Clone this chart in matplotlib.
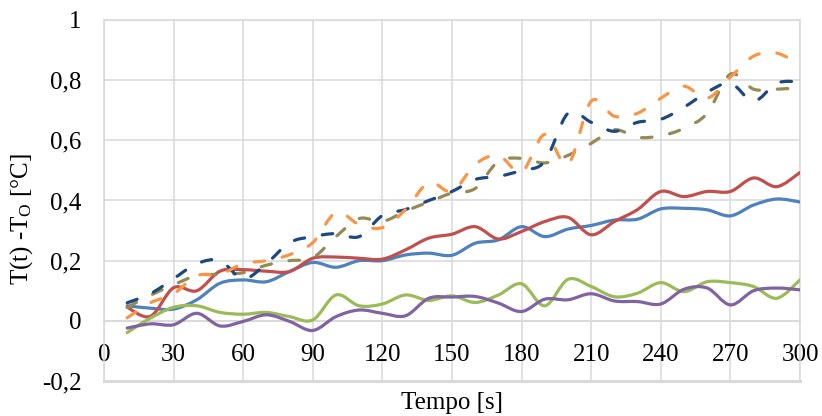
import matplotlib
matplotlib.use("Agg")
import matplotlib.pyplot as plt
from matplotlib.path import Path
from matplotlib.patches import PathPatch
from matplotlib.ticker import FuncFormatter

plt.rcParams['font.family'] = ['Liberation Serif', 'DejaVu Serif']
plt.rcParams['mathtext.fontset'] = 'custom'
plt.rcParams['mathtext.rm'] = 'Liberation Serif'
plt.rcParams['mathtext.it'] = 'Liberation Serif:italic'

# Time axis [s]
tempo = list(range(10, 310, 10))

# Temperature rise T(t) - T0 [°C] for each measurement
serie_azul = [0.050, 0.042, 0.039, 0.070, 0.125, 0.136, 0.130, 0.164, 0.194, 0.178,
              0.200, 0.200, 0.219, 0.225, 0.218, 0.258, 0.269, 0.313, 0.280, 0.305,
              0.317, 0.335, 0.338, 0.372, 0.374, 0.369, 0.349, 0.385, 0.405, 0.395]
serie_vermelha = [0.045, 0.015, 0.110, 0.100, 0.165, 0.170, 0.165, 0.164, 0.208, 0.212,
                  0.208, 0.205, 0.236, 0.275, 0.288, 0.313, 0.272, 0.297, 0.330, 0.344,
                  0.286, 0.330, 0.370, 0.430, 0.413, 0.430, 0.430, 0.475, 0.446, 0.493]
serie_verde = [-0.039, 0.009, 0.045, 0.050, 0.028, 0.022, 0.028, 0.014, 0.003, 0.086,
               0.050, 0.056, 0.086, 0.068, 0.083, 0.061, 0.086, 0.123, 0.050, 0.138,
               0.114, 0.080, 0.092, 0.127, 0.097, 0.130, 0.127, 0.114, 0.075, 0.136]
serie_roxa = [-0.024, -0.010, -0.013, 0.025, -0.017, -0.002, 0.020, -0.002, -0.032, 0.014,
              0.036, 0.025, 0.017, 0.075, 0.079, 0.081, 0.059, 0.031, 0.072, 0.070,
              0.090, 0.066, 0.064, 0.056, 0.105, 0.109, 0.053, 0.100, 0.109, 0.103]
serie_azul_escuro = [0.060, 0.090, 0.140, 0.190, 0.200, 0.140, 0.190, 0.260, 0.280, 0.290,
                     0.280, 0.350, 0.370, 0.400, 0.430, 0.470, 0.480, 0.500, 0.530, 0.690,
                     0.660, 0.630, 0.660, 0.670, 0.710, 0.760, 0.790, 0.730, 0.790, 0.795]
serie_laranja = [0.010, 0.060, 0.090, 0.150, 0.155, 0.190, 0.200, 0.220, 0.260, 0.360,
                 0.320, 0.310, 0.370, 0.460, 0.430, 0.520, 0.550, 0.495, 0.620, 0.520,
                 0.730, 0.680, 0.690, 0.740, 0.780, 0.740, 0.810, 0.880, 0.890, 0.850]
serie_oliva = [0.045, 0.085, 0.120, 0.150, 0.155, 0.160, 0.185, 0.200, 0.210, 0.280,
               0.340, 0.330, 0.365, 0.395, 0.425, 0.440, 0.530, 0.540, 0.525, 0.550,
               0.590, 0.635, 0.610, 0.615, 0.640, 0.690, 0.820, 0.770, 0.770, 0.775]

y_ticks = [-0.2, 0, 0.2, 0.4, 0.6, 0.8, 1.0]
x_ticks = list(range(0, 330, 30))


def smooth_path(xs, ys):
    """Smoothed polyline as cubic Bezier segments (Catmull-Rom style control points)."""
    n = len(xs)
    verts = [(xs[0], ys[0])]
    codes = [Path.MOVETO]
    for i in range(n - 1):
        i0 = max(i - 1, 0)
        i3 = min(i + 2, n - 1)
        c1 = (xs[i] + (xs[i + 1] - xs[i0]) / 6.0, ys[i] + (ys[i + 1] - ys[i0]) / 6.0)
        c2 = (xs[i + 1] - (xs[i3] - xs[i]) / 6.0, ys[i + 1] - (ys[i3] - ys[i]) / 6.0)
        verts += [c1, c2, (xs[i + 1], ys[i + 1])]
        codes += [Path.CURVE4] * 3
    return Path(verts, codes)


fig = plt.figure(figsize=(8.22, 4.16), dpi=100)
ax = fig.add_axes([104 / 822, 1 - 381 / 416, (800 - 104) / 822, (381 - 20) / 416])

ax.set_xlim(0, 300)
ax.set_ylim(-0.2, 1.0)

grid_color = '#D9D9D9'
ax.set_xticks(x_ticks)
ax.set_yticks(y_ticks)
ax.grid(True, color=grid_color, linewidth=1.1, zorder=0)
ax.set_axisbelow(True)
for side in ('left', 'right', 'top'):
    ax.spines[side].set_color(grid_color)
    ax.spines[side].set_linewidth(1.1)
ax.spines['bottom'].set_position(('data', 0))
ax.spines['bottom'].set_color(grid_color)
ax.spines['bottom'].set_linewidth(1.1)
ax.axhline(-0.2, color=grid_color, linewidth=2.2, zorder=0, clip_on=False)

ax.tick_params(axis='both', length=0, labelsize=18, colors='black')
ax.tick_params(axis='x', pad=17)
ax.tick_params(axis='y', pad=16)
ax.yaxis.set_major_formatter(FuncFormatter(
    lambda v, p: ('%g' % round(v, 1)).replace('.', ',')))

lw = 2.3
solid = [
    (serie_azul, '#4F81BD'),
    (serie_vermelha, '#C0504D'),
    (serie_verde, '#9BBB59'),
    (serie_roxa, '#8064A2'),
]
dashed = [
    (serie_oliva, '#948A54'),
    (serie_azul_escuro, '#1F497D'),
    (serie_laranja, '#F79646'),
]
z = 3
for vals, col in solid:
    ax.add_patch(PathPatch(smooth_path(tempo, vals), fill=False, edgecolor=col,
                           linewidth=lw, capstyle='round', joinstyle='round', zorder=z))
    z += 1
for vals, col in dashed:
    ax.add_patch(PathPatch(smooth_path(tempo, vals), fill=False, edgecolor=col,
                           linewidth=lw, linestyle=(0, (3.3, 5.6)), capstyle='round',
                           joinstyle='round', zorder=z))
    z += 1

fig.text(452 / 822, 1 - 403 / 416, 'Tempo [s]', ha='center', va='center', fontsize=18)
fig.text(22 / 822, 1 - 219 / 416, r'T(t) -T$_\mathrm{O}$ [°C]', ha='center', va='center',
         rotation=90, fontsize=18)

fig.savefig('out.png', dpi=100)
